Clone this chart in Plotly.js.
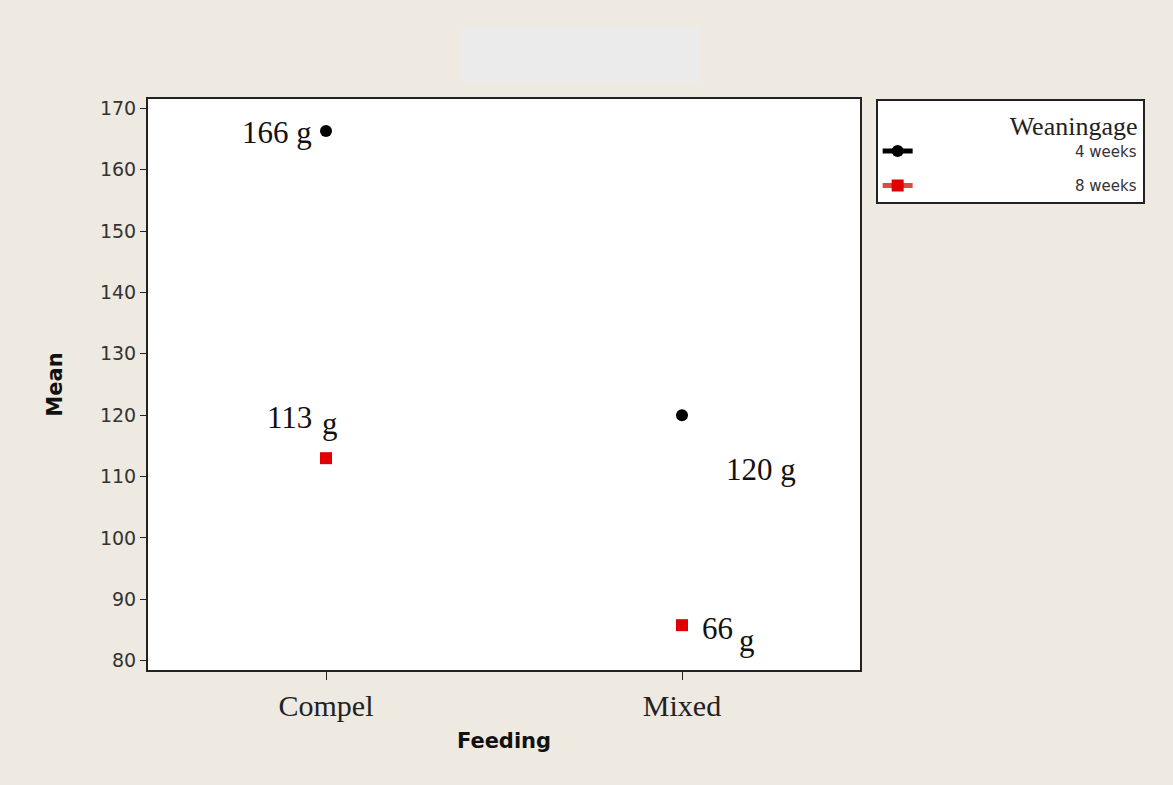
<!DOCTYPE html>
<html>
<head>
<meta charset="utf-8">
<script src="https://cdn.plot.ly/plotly-3.0.1.min.js"></script>
<style>html,body{margin:0;padding:0;background:#EEEAE1;}</style>
</head>
<body>
<div id="chart" style="width:1173px;height:785px;"></div>
<script>
const categories = ["Compel", "Mixed"];
const seriesNames = ["4 weeks", "8 weeks"];
const weeks4 = [166.3, 120.0];
const weeks8 = [113.0, 85.8];
const labels4 = ["166 g", "120 g"];
const labels8 = ["113 g", "66 g"];
const yTicks = [80, 90, 100, 110, 120, 130, 140, 150, 160, 170];

const pad = "\u00A0".repeat(33);
const traces = [
  {x: [categories[0], null, categories[1]], y: [weeks4[0], null, weeks4[1]],
   name: pad + seriesNames[0], legendgroup: "a", type: "scatter", mode: "markers+lines",
   connectgaps: false, line: {color: "#000000", width: 1},
   marker: {symbol: "circle", color: "#000000", size: 12}},
  {x: [categories[0], null, categories[1]], y: [weeks8[0], null, weeks8[1]],
   name: pad + seriesNames[1], legendgroup: "b", type: "scatter", mode: "markers+lines",
   connectgaps: false, line: {color: "#E04848", width: 1},
   marker: {symbol: "square", color: "#E00000", size: 12}}
];

const serif = "Liberation Serif, Times New Roman, serif";
const sans = "DejaVu Sans, Tahoma, sans-serif";
const labelFont = {family: serif, size: 31, color: "#111"};

function label(x, y, text, xanchor, xshift, yshift) {
  return {x: x, y: y, text: text, xref: "x", yref: "y", showarrow: false,
          xanchor: xanchor, yanchor: "middle", xshift: xshift, yshift: yshift, font: labelFont};
}
const sp = s => s.split(" ");
const annotations = [
  label(categories[0], weeks4[0], labels4[0], "right", -12, -2),
  label(categories[1], weeks4[1], labels4[1], "left", 42, -54),
  label(categories[0], weeks8[0], sp(labels8[0])[0], "right", -12, 41),
  label(categories[0], weeks8[0], sp(labels8[0])[1], "left", -6, 35),
  label(categories[1], weeks8[1], sp(labels8[1])[0], "left", 18, -3),
  label(categories[1], weeks8[1], sp(labels8[1])[1], "left", 55, -15)
];

const layout = {
  width: 1173, height: 785,
  paper_bgcolor: "#EEEAE1", plot_bgcolor: "#FFFFFF",
  margin: {l: 148, r: 313, t: 99, b: 115},
  showlegend: true,
  legend: {
    x: 1.022, xanchor: "left", y: 1.0, yanchor: "top",
    bgcolor: "#FFFFFF", bordercolor: "#222", borderwidth: 2,
    font: {family: sans, size: 15, color: "#333"},
    title: {text: "\u00A0".repeat(20) + "Weaningage", font: {family: serif, size: 26, color: "#222"}, side: "top"},
    tracegroupgap: 12, itemsizing: "constant"
  },
  xaxis: {
    type: "category", range: [-0.5, 1.5],
    showline: true, mirror: true, linecolor: "#222", linewidth: 2,
    ticks: "outside", ticklen: 8, tickcolor: "#222",
    showgrid: false, zeroline: false,
    tickfont: {family: serif, size: 30, color: "#222"},
    title: {text: "<b>Feeding</b>", font: {family: sans, size: 21, color: "#111"}, standoff: 12}
  },
  yaxis: {
    range: [78.5, 171.5], tickvals: yTicks,
    showline: true, mirror: true, linecolor: "#222", linewidth: 2,
    ticks: "outside", ticklen: 6, tickcolor: "#222",
    showgrid: false, zeroline: false,
    tickfont: {family: sans, size: 19, color: "#333"},
    title: {text: "<b>Mean</b>", font: {family: sans, size: 21, color: "#111"}, standoff: 32}
  },
  shapes: [
    {type: "rect", xref: "paper", yref: "paper", x0: (462-148)/712, x1: (700-148)/712,
     y0: (785-115-82)/571, y1: (785-115-27)/571, fillcolor: "#EBEBEB", line: {width: 0}, layer: "below"}
  ],
  annotations: annotations
};

Plotly.newPlot("chart", traces, layout, {displayModeBar: false, staticPlot: true});
</script>
</body>
</html>
